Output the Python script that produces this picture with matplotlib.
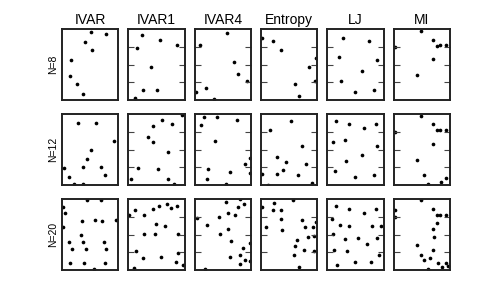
import matplotlib
matplotlib.use("Agg")
import matplotlib.pyplot as plt

plt.rcParams["font.family"] = ["Liberation Sans", "DejaVu Sans"]

methods = ["IVAR", "IVAR1", "IVAR4", "Entropy", "LJ", "MI"]
sizes = ["N=8", "N=12", "N=20"]

# point positions per (size, method)
pts = {
    ("N=8", "IVAR"): [(0.51, 0.96), (0.78, 0.93), (0.41, 0.82), (0.53, 0.70),
                      (0.16, 0.57), (0.14, 0.34), (0.26, 0.22), (0.38, 0.085)],
    ("N=8", "IVAR1"): [(0.24, 0.915), (0.57, 0.845), (0.87, 0.77), (0.16, 0.73),
                       (0.41, 0.47), (0.26, 0.14), (0.51, 0.146), (0.125, 0.03)],
    ("N=8", "IVAR4"): [(0.58, 0.94), (0.10, 0.78), (0.69, 0.53), (0.77, 0.36),
                       (0.93, 0.27), (0.20, 0.17), (0.02, 0.11), (0.35, 0.01)],
    ("N=8", "Entropy"): [(0.02, 0.88), (0.22, 0.835), (0.35, 0.71), (0.98, 0.59),
                         (0.85, 0.46), (0.96, 0.27), (0.60, 0.22), (0.68, 0.05)],
    ("N=8", "LJ"): [(0.27, 0.88), (0.74, 0.825), (0.20, 0.61), (0.875, 0.56),
                    (0.61, 0.415), (0.24, 0.27), (0.83, 0.146), (0.49, 0.11)],
    ("N=8", "MI"): [(0.49, 0.98), (0.69, 0.845), (0.76, 0.76), (0.83, 0.78),
                    (0.93, 0.78), (0.03, 0.745), (0.70, 0.585), (0.42, 0.35)],

    ("N=12", "IVAR"): [(0.29, 0.877), (0.60, 0.877), (0.92, 0.62), (0.52, 0.495),
                       (0.45, 0.37), (0.04, 0.236), (0.365, 0.255), (0.69, 0.26),
                       (0.12, 0.118), (0.76, 0.137), (0.21, 0.01), (0.365, 0.01)],
    ("N=12", "IVAR1"): [(0.95, 0.985), (0.60, 0.915), (0.78, 0.854), (0.44, 0.83),
                        (0.35, 0.675), (0.43, 0.60), (0.70, 0.46), (0.18, 0.245),
                        (0.52, 0.226), (0.05, 0.08), (0.70, 0.085), (0.815, 0.01)],
    ("N=12", "IVAR4"): [(0.16, 0.958), (0.40, 0.962), (0.75, 0.915), (0.12, 0.84),
                        (0.36, 0.62), (0.99, 0.38), (0.90, 0.29), (0.24, 0.23),
                        (0.62, 0.18), (0.99, 0.17), (0.22, 0.085), (0.56, 0.014)],
    ("N=12", "Entropy"): [(0.54, 0.906), (0.16, 0.78), (0.72, 0.547), (0.275, 0.40),
                          (0.44, 0.32), (0.80, 0.29), (0.39, 0.217), (0.28, 0.16),
                          (0.65, 0.14), (0.02, 0.156), (0.13, 0.0), (0.90, 0.028)],
    ("N=12", "LJ"): [(0.15, 0.90), (0.39, 0.863), (0.65, 0.81), (0.86, 0.854),
                     (0.095, 0.60), (0.32, 0.63), (0.875, 0.557), (0.61, 0.42),
                     (0.33, 0.335), (0.13, 0.20), (0.83, 0.146), (0.49, 0.113)],
    ("N=12", "MI"): [(0.49, 0.98), (0.69, 0.854), (0.76, 0.77), (0.83, 0.78),
                     (0.93, 0.78), (0.03, 0.75), (0.70, 0.585), (0.42, 0.35),
                     (0.54, 0.137), (0.92, 0.104), (0.61, 0.014), (0.84, 0.04)],

    ("N=20", "IVAR"): [(0.45, 0.986), (0.69, 0.986), (0.01, 0.896), (0.05, 0.80),
                       (0.01, 0.61), (0.35, 0.69), (0.59, 0.70), (0.72, 0.69),
                       (0.96, 0.70), (0.33, 0.495), (0.12, 0.396), (0.38, 0.39),
                       (0.74, 0.40), (0.18, 0.297), (0.42, 0.29), (0.79, 0.29),
                       (0.15, 0.10), (0.39, 0.10), (0.765, 0.094), (0.57, 0.01)],
    ("N=20", "IVAR1"): [(0.125, 0.844), (0.28, 0.78), (0.44, 0.854), (0.55, 0.90),
                        (0.68, 0.93), (0.75, 0.873), (0.87, 0.90), (0.02, 0.78),
                        (0.49, 0.65), (0.65, 0.62), (0.27, 0.514), (0.48, 0.505),
                        (0.89, 0.51), (0.14, 0.27), (0.89, 0.245), (0.26, 0.175),
                        (0.58, 0.19), (0.85, 0.11), (0.10, 0.033), (0.98, 0.07)],
    ("N=20", "IVAR4"): [(0.56, 0.962), (0.81, 1.0), (0.88, 0.925), (0.77, 0.887),
                        (0.60, 0.81), (0.72, 0.774), (0.44, 0.75), (0.04, 0.73),
                        (0.215, 0.637), (0.59, 0.575), (0.455, 0.514), (0.65, 0.415),
                        (0.98, 0.38), (0.86, 0.307), (0.63, 0.19), (0.81, 0.21),
                        (0.89, 0.137), (0.99, 0.13), (0.80, 0.09), (0.19, 0.014)],
    ("N=20", "Entropy"): [(0.02, 0.89), (0.23, 0.95), (0.575, 0.986), (0.22, 0.84),
                          (0.35, 0.844), (0.35, 0.717), (0.08, 0.613), (0.38, 0.56),
                          (0.72, 0.70), (0.79, 0.604), (0.92, 0.604), (0.98, 0.684),
                          (0.84, 0.47), (0.95, 0.476), (0.64, 0.425), (0.61, 0.34),
                          (0.77, 0.283), (0.95, 0.274), (0.59, 0.217), (0.68, 0.047)],
    ("N=20", "LJ"): [(0.15, 0.90), (0.39, 0.863), (0.65, 0.81), (0.86, 0.854),
                     (0.077, 0.717), (0.23, 0.64), (0.39, 0.627), (0.80, 0.623),
                     (0.96, 0.627), (0.10, 0.514), (0.32, 0.443), (0.55, 0.457),
                     (0.88, 0.448), (0.70, 0.363), (0.11, 0.283), (0.34, 0.27),
                     (0.92, 0.217), (0.17, 0.075), (0.49, 0.118), (0.77, 0.113)],
    ("N=20", "MI"): [(0.49, 0.986), (0.69, 0.854), (0.76, 0.77), (0.83, 0.78),
                     (0.93, 0.78), (0.02, 0.84), (0.02, 0.755), (0.76, 0.665),
                     (0.70, 0.585), (0.71, 0.47), (0.70, 0.28), (0.42, 0.35),
                     (0.48, 0.21), (0.645, 0.175), (0.54, 0.137), (0.78, 0.094),
                     (0.92, 0.104), (0.85, 0.047), (0.97, 0.052), (0.61, 0.014)],
}

yticks = [0.25, 0.5, 0.75]

fig, axes = plt.subplots(3, 6, figsize=(5, 3), dpi=100)
fig.subplots_adjust(left=0.124, right=0.9, top=0.903, bottom=0.1,
                    wspace=0.18, hspace=0.2)

for i, size in enumerate(sizes):
    for j, method in enumerate(methods):
        ax = axes[i, j]
        xs = [p[0] for p in pts[(size, method)]]
        ys = [p[1] for p in pts[(size, method)]]
        ax.scatter(xs, ys, s=7, color="black", linewidths=0)
        ax.set_xlim(0, 1)
        ax.set_ylim(0, 1)
        ax.set_xticks([])
        if j == 0:
            ax.set_yticks([])
        else:
            ax.set_yticks(yticks)
        ax.tick_params(axis="y", direction="in", left=True, right=True,
                       labelleft=False, length=4, width=0.8, color="#444444")
        for sp in ax.spines.values():
            sp.set_linewidth(1.4)
            sp.set_color("#222222")
        if i == 0:
            ax.set_title(method, fontsize=10, pad=4)
        if j == 0:
            ax.set_ylabel(size, fontsize=7.5, labelpad=3)

plt.savefig("out.png", dpi=100)
